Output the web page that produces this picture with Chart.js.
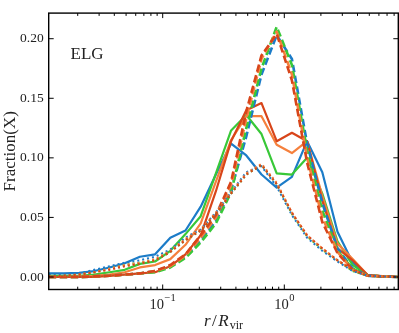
<!DOCTYPE html>
<html><head><meta charset="utf-8">
<script src="https://cdn.jsdelivr.net/npm/chart.js@4.4.1/dist/chart.umd.min.js"></script>
<style>html,body{margin:0;padding:0;background:#fff;}#wrap{width:399px;height:333px;position:relative;}</style>
</head><body>
<div id="wrap"><canvas id="c" width="399" height="333"></canvas></div>
<script>
// r / R_vir bin centres (log-spaced bins)
const rBins = [0.01155,0.01540,0.02054,0.02738,0.03652,0.04870,0.06494,0.08660,
               0.1155,0.1540,0.2054,0.2738,0.3652,0.4870,0.6494,0.8660,
               1.155,1.540,2.054,2.738,3.652,4.870,6.494,8.660];

const blueSolid   = [0.003,0.003,0.0035,0.005,0.008,0.0115,0.017,0.019,0.033,0.039,0.059,0.086,0.112,0.102,0.086,0.075,0.084,0.114,0.088,0.038,0.012,0.0015,0.0005,0.0];
const greenSolid  = [0.001,0.001,0.001,0.002,0.004,0.006,0.011,0.013,0.022,0.036,0.051,0.087,0.123,0.136,0.120,0.087,0.086,0.100,0.070,0.030,0.010,0.0015,0.0005,0.0];
const orangeSolid = [0.0,0.0,0.0005,0.001,0.002,0.004,0.008,0.010,0.015,0.027,0.045,0.080,0.115,0.135,0.135,0.111,0.104,0.114,0.068,0.028,0.015,0.0015,0.0005,0.0];
const redSolid    = [0.0,0.0,0.0,0.0,0.001,0.002,0.003,0.004,0.009,0.019,0.035,0.072,0.114,0.140,0.146,0.114,0.121,0.114,0.064,0.024,0.014,0.0015,0.0005,0.0];

const blueDashed   = [0,0,0,0.0005,0.001,0.002,0.003,0.005,0.009,0.017,0.031,0.047,0.073,0.118,0.170,0.203,0.183,0.112,0.062,0.024,0.007,0.001,0.0005,0];
const greenDashed  = [0,0,0,0.0005,0.001,0.002,0.003,0.004,0.008,0.016,0.029,0.045,0.071,0.125,0.175,0.210,0.178,0.106,0.056,0.022,0.007,0.001,0.0005,0];
const orangeDashed = [0,0,0,0.0005,0.001,0.002,0.003,0.005,0.009,0.018,0.033,0.050,0.077,0.133,0.183,0.206,0.170,0.100,0.050,0.021,0.006,0.001,0.0005,0];
const redDashed    = [0,0,0,0.0005,0.001,0.002,0.003,0.005,0.010,0.019,0.035,0.052,0.080,0.139,0.186,0.204,0.165,0.096,0.046,0.020,0.006,0.001,0.0005,0];

const blueDotted   = [0.002,0.002,0.003,0.006,0.009,0.012,0.014,0.017,0.023,0.033,0.040,0.054,0.071,0.088,0.093,0.076,0.052,0.033,0.022,0.013,0.005,0.001,0.0005,0];
const greenDotted  = [0.001,0.001,0.002,0.004,0.007,0.010,0.012,0.014,0.021,0.031,0.039,0.053,0.070,0.086,0.094,0.078,0.053,0.034,0.023,0.014,0.005,0.001,0.0005,0];
const orangeDotted = [0.0005,0.001,0.002,0.004,0.007,0.010,0.012,0.015,0.022,0.032,0.040,0.054,0.071,0.087,0.095,0.079,0.054,0.035,0.024,0.014,0.006,0.001,0.0005,0];
const redDotted    = [0.0005,0.001,0.002,0.004,0.006,0.009,0.011,0.014,0.021,0.031,0.039,0.053,0.070,0.086,0.094,0.078,0.054,0.035,0.024,0.014,0.006,0.001,0.0005,0];

const yTicks = [0.00,0.05,0.10,0.15,0.20];
const xMajorTicks = [0.1, 1];
const xMajorLabels = [['10','\u22121'],['10','0']];
const xMinorTicks = [0.02,0.03,0.04,0.05,0.06,0.07,0.08,0.09,0.2,0.3,0.4,0.5,0.6,0.7,0.8,0.9,2,3,4,5,6,7,8];
const panelLabel = 'ELG';
const yTitle = 'Fraction(X)';

const C = {blue:'#1c7cc8', green:'#38c838', orange:'#f5803d', red:'#d8451a'};
const SERIF = '"Liberation Serif", "DejaVu Serif", serif';

function pts(arr){ return rBins.map((r,i)=>({x:r, y:arr[i]})); }
function ds(arr, color, style, order){
  const o = {data:pts(arr), borderColor:color, backgroundColor:color, pointRadius:0,
    fill:false, tension:0, order:order, borderJoinStyle:'round'};
  if(style==='solid'){ o.borderWidth=2.2; o.borderCapStyle='round'; }
  if(style==='dashed'){ o.borderWidth=2.6; o.borderDash=[7.5,3.5]; o.borderCapStyle='butt'; }
  if(style==='dotted'){ o.borderWidth=2.1; o.borderDash=[2,3]; o.borderCapStyle='butt'; }
  return o;
}

const framePlugin = {
  id:'frame',
  afterDatasetsDraw(chart){
    const {ctx, chartArea:a, scales:{x,y}} = chart;
    ctx.save();
    ctx.strokeStyle='#000';
    ctx.lineWidth=1;
    ctx.beginPath();
    xMajorTicks.forEach(v=>{ const p=x.getPixelForValue(v);
      ctx.moveTo(p,a.bottom); ctx.lineTo(p,a.bottom-5);
      ctx.moveTo(p,a.top); ctx.lineTo(p,a.top+5); });
    xMinorTicks.forEach(v=>{ const p=x.getPixelForValue(v);
      ctx.moveTo(p,a.bottom); ctx.lineTo(p,a.bottom-2.8);
      ctx.moveTo(p,a.top); ctx.lineTo(p,a.top+2.8); });
    yTicks.forEach(v=>{ const p=y.getPixelForValue(v);
      ctx.moveTo(a.left,p); ctx.lineTo(a.left+5,p);
      ctx.moveTo(a.right,p); ctx.lineTo(a.right-5,p); });
    ctx.stroke();
    ctx.lineWidth=1.4;
    ctx.strokeRect(a.left,a.top,a.right-a.left,a.bottom-a.top);
    ctx.restore();
  },
  afterDraw(chart){
    const {ctx, chartArea:a, scales:{x}} = chart;
    ctx.save();
    ctx.fillStyle='#222';
    // x tick labels with superscripts
    xMajorTicks.forEach((v,i)=>{
      const p=x.getPixelForValue(v);
      const [base,exp]=xMajorLabels[i];
      ctx.font='14.5px '+SERIF;
      const wb=ctx.measureText(base).width;
      ctx.font='10.5px '+SERIF;
      const we=ctx.measureText(exp).width;
      const x0=p-(wb+we+0.5)/2;
      ctx.textBaseline='alphabetic'; ctx.textAlign='left';
      ctx.font='14.5px '+SERIF; ctx.fillText(base,x0,309);
      ctx.font='10.5px '+SERIF; ctx.fillText(exp,x0+wb+0.5,301);
    });
    // x axis title r / R_vir
    const cx=(a.left+a.right)/2, by=326;
    ctx.font='italic 17px '+SERIF;
    const wr=ctx.measureText('r').width, wR=ctx.measureText('R').width;
    ctx.font='17px '+SERIF;
    const ws=ctx.measureText('/').width;
    ctx.font='12px '+SERIF;
    const wv=ctx.measureText('vir').width;
    const total=wr+1.5+ws+1.5+wR+1+wv;
    let xx=cx-total/2;
    ctx.textAlign='left';
    ctx.font='italic 17px '+SERIF; ctx.fillText('r',xx,by); xx+=wr+1.5;
    ctx.font='17px '+SERIF; ctx.fillText('/',xx,by); xx+=ws+1.5;
    ctx.font='italic 17px '+SERIF; ctx.fillText('R',xx,by); xx+=wR+1;
    ctx.font='12px '+SERIF; ctx.fillText('vir',xx,by+3);
    // y axis title
    ctx.save();
    ctx.translate(15,(a.top+a.bottom)/2);
    ctx.rotate(-Math.PI/2);
    ctx.textAlign='center'; ctx.textBaseline='alphabetic';
    ctx.font='17px '+SERIF;
    ctx.fillText(yTitle,0,0);
    ctx.restore();
    // panel label
    ctx.font='17px '+SERIF; ctx.textAlign='left'; ctx.textBaseline='alphabetic';
    ctx.fillText(panelLabel,70.5,59);
    ctx.restore();
  }
};

new Chart(document.getElementById('c'), {
  type:'line',
  data:{datasets:[
    ds(blueSolid,C.blue,'solid',34), ds(greenSolid,C.green,'solid',33),
    ds(orangeSolid,C.orange,'solid',32), ds(redSolid,C.red,'solid',31),
    ds(blueDashed,C.blue,'dashed',24), ds(greenDashed,C.green,'dashed',23),
    ds(orangeDashed,C.orange,'dashed',22), ds(redDashed,C.red,'dashed',21),
    ds(blueDotted,C.blue,'dotted',14), ds(greenDotted,C.green,'dotted',13),
    ds(orangeDotted,C.orange,'dotted',12), ds(redDotted,C.red,'dotted',11)
  ]},
  options:{
    responsive:false, animation:false, devicePixelRatio:1,
    layout:{padding:{top:0.5,right:0.7,left:0,bottom:0}},
    plugins:{legend:{display:false}, tooltip:{enabled:false}},
    scales:{
      x:{type:'logarithmic', min:0.011548, max:8.66,
        grid:{display:false, drawTicks:false}, border:{display:false},
        ticks:{display:false},
        afterBuildTicks:(s)=>{ s.ticks = xMajorTicks.map(v=>({value:v})); },
        afterFit:(s)=>{ s.height=43.5; }
      },
      y:{type:'linear', min:-0.0105, max:0.2215,
        grid:{display:false, drawTicks:false}, border:{display:false},
        ticks:{padding:5, color:'#222', font:{family:SERIF, size:13.5},
          callback:(v)=>Number(v).toFixed(2)},
        afterBuildTicks:(s)=>{ s.ticks = yTicks.map(v=>({value:v})); },
        afterFit:(s)=>{ s.width=48.7; }
      }
    }
  },
  plugins:[framePlugin]
});
</script>
</body></html>
